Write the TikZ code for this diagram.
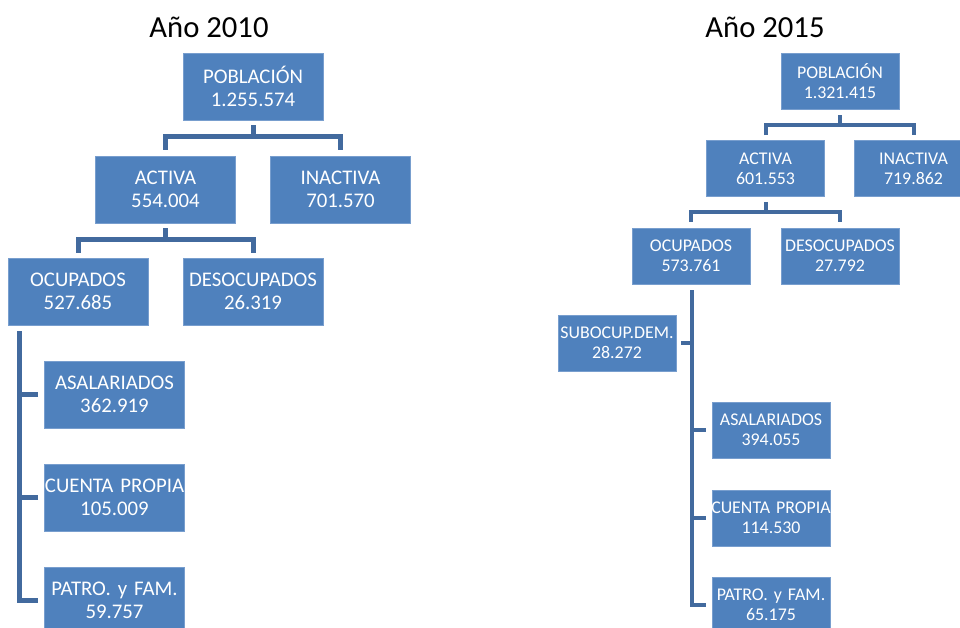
\documentclass[tikz,border=0pt]{standalone}
\usepackage{fontspec}
\setmainfont{Carlito}
\usetikzlibrary{calc}
\definecolor{boxblue}{RGB}{79,129,189}
\definecolor{boxedge}{RGB}{120,158,206}
\definecolor{connblue}{RGB}{66,106,158}
\tikzset{
  bigbox/.style={fill=boxblue, draw=boxedge, line width=0.6pt, text=white,
    text width=105pt, minimum height=50.25pt, inner sep=0pt, align=center,
    font=\fontsize{15.6pt}{17.4pt}\selectfont},
  smallbox/.style={fill=boxblue, draw=boxedge, line width=0.6pt, text=white,
    text width=88.5pt, minimum height=42pt, inner sep=0pt, align=center,
    font=\fontsize{13.4pt}{15pt}\selectfont},
  connA/.style={draw=connblue, line width=3.75pt},
  connB/.style={draw=connblue, line width=3pt},
  titletext/.style={font=\fontsize{23pt}{27pt}\selectfont, text=black, anchor=base, inner sep=0pt}
}
\newcommand{\fitline}[1]{\makebox[\linewidth][c]{#1}}
\begin{document}
\begin{tikzpicture}[x=0.75pt,y=-0.75pt]
\useasboundingbox (0,0) rectangle (960,628);
\clip (0,0) rectangle (960,628);
% titles
\node[titletext] (t1) at (209,37) {Año 2010};
\node[titletext] (t2) at (765,37) {Año 2015};
% 2010
\node[bigbox] (pob1) at (253,86.5) {POBLACIÓN\\1.255.574};
\node[bigbox] (act1) at (165.5,189.5) {ACTIVA\\554.004};
\node[bigbox] (inact1) at (340.5,189.5) {INACTIVA\\701.570};
\node[bigbox] (ocup1) at (78,291.5) {OCUPADOS\\527.685};
\node[bigbox] (desoc1) at (253,291.5) {\fitline{DESOCUPADOS}\\26.319};
\node[bigbox] (asal1) at (114.5,394.5) {ASALARIADOS\\362.919};
\node[bigbox] (cuenta1) at (114.5,497.5) {\fitline{CUENTA PROPIA}\\105.009};
\node[bigbox] (patro1) at (114.5,600.5) {PATRO. y FAM.\\59.757};
\draw[connA] ($(pob1.south)+(0,5)$) -- ($(pob1.south)+(0,17)$);
\draw[connA] ($(act1.north)+(0,-6)$) |- ($(inact1.north)+(0,-19)$) -- ($(inact1.north)+(0,-6)$);
\draw[connA] ($(act1.south)+(0,5)$) -- ($(act1.south)+(0,17)$);
\draw[connA] ($(ocup1.north)+(0,-5)$) |- ($(desoc1.north)+(0,-18)$) -- ($(desoc1.north)+(0,-5)$);
\draw[connA] ($(ocup1.south west)+(12,6)$) |- ($(patro1.west)+(-6,0)$);
\draw[connA] ($(asal1.west)+(-6,0)$) -- ++(-19,0);
\draw[connA] ($(cuenta1.west)+(-6,0)$) -- ++(-19,0);
% 2015
\node[smallbox] (pob2) at (840,81) {POBLACIÓN\\1.321.415};
\node[smallbox] (act2) at (765.5,168.5) {ACTIVA\\601.553};
\node[smallbox] (inact2) at (913.5,168.5) {INACTIVA\\719.862};
\node[smallbox] (ocup2) at (691,256) {OCUPADOS\\573.761};
\node[smallbox] (desoc2) at (840,256) {\fitline{DESOCUPADOS}\\27.792};
\node[smallbox] (sub2) at (617,343) {\fitline{SUBOCUP.DEM.}\\28.272};
\node[smallbox] (asal2) at (771,430) {ASALARIADOS\\394.055};
\node[smallbox] (cuenta2) at (771,518) {\fitline{CUENTA PROPIA}\\114.530};
\node[smallbox] (patro2) at (771,605) {PATRO. y FAM.\\65.175};
\draw[connB] ($(pob2.south)+(0,6)$) -- ($(pob2.south)+(0,16)$);
\draw[connB] ($(act2.north)+(0,-5)$) |- ($(inact2.north)+(0,-15)$) -- ($(inact2.north)+(0,-5)$);
\draw[connB] ($(act2.south)+(0,5)$) -- ($(act2.south)+(0,15)$);
\draw[connB] ($(ocup2.north)+(0,-6)$) |- ($(desoc2.north)+(0,-16)$) -- ($(desoc2.north)+(0,-6)$);
\draw[connB] ($(ocup2.south)+(1,6)$) |- ($(patro2.west)+(-6,0)$);
\draw[connB] ($(asal2.west)+(-6,0)$) -- ++(-14,0);
\draw[connB] ($(cuenta2.west)+(-6,0)$) -- ++(-14,0);
\draw[connB] ($(sub2.east)+(5,0)$) -- ++(11,0);
\end{tikzpicture}
\end{document}
